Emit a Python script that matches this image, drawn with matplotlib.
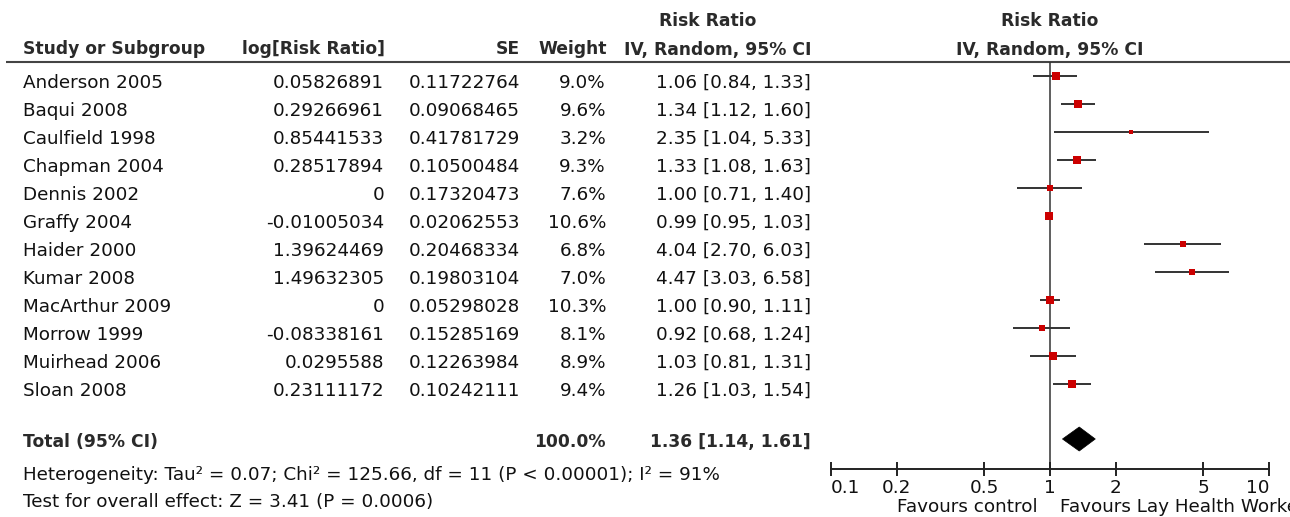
import matplotlib
matplotlib.use("Agg")
import matplotlib.pyplot as plt
from matplotlib.patches import Polygon

# ---------------- data ----------------
studies = ["Anderson 2005", "Baqui 2008", "Caulfield 1998", "Chapman 2004",
           "Dennis 2002", "Graffy 2004", "Haider 2000", "Kumar 2008",
           "MacArthur 2009", "Morrow 1999", "Muirhead 2006", "Sloan 2008"]
log_rr = [0.05826891, 0.29266961, 0.85441533, 0.28517894, 0, -0.01005034,
          1.39624469, 1.49632305, 0, -0.08338161, 0.0295588, 0.23111172]
se = [0.11722764, 0.09068465, 0.41781729, 0.10500484, 0.17320473, 0.02062553,
      0.20468334, 0.19803104, 0.05298028, 0.15285169, 0.12263984, 0.10242111]
weight = [9.0, 9.6, 3.2, 9.3, 7.6, 10.6, 6.8, 7.0, 10.3, 8.1, 8.9, 9.4]
rr = [1.06, 1.34, 2.35, 1.33, 1.00, 0.99, 4.04, 4.47, 1.00, 0.92, 1.03, 1.26]
ci_lo = [0.84, 1.12, 1.04, 1.08, 0.71, 0.95, 2.70, 3.03, 0.90, 0.68, 0.81, 1.03]
ci_hi = [1.33, 1.60, 5.33, 1.63, 1.40, 1.03, 6.03, 6.58, 1.11, 1.24, 1.31, 1.54]
total_rr, total_lo, total_hi = 1.36, 1.14, 1.61
total_weight = 100.0
xticks = [0.1, 0.2, 0.5, 1, 2, 5, 10]
xtick_labels = ["0.1", "0.2", "0.5", "1", "2", "5", "10"]
heterogeneity = "Heterogeneity: Tau\u00b2 = 0.07; Chi\u00b2 = 125.66, df = 11 (P < 0.00001); I\u00b2 = 91%"
overall = "Test for overall effect: Z = 3.41 (P = 0.0006)"
fav_left = "Favours control"
fav_right = "Favours Lay Health Worker"

# ---------------- layout ----------------
W, H = 1290, 517
fig = plt.figure(figsize=(W / 100, H / 100), dpi=100)
fig.patch.set_facecolor("white")

REG = 13.2
BOLD = 12.3
txt_col = "#111111"
bold_col = "#2a2a2a"
plt.rcParams["font.family"] = ["DejaVu Sans"]

ax = fig.add_axes([0, 0, 1, 1])
ax.set_xlim(0, W)
ax.set_ylim(H, 0)
ax.axis("off")

row_y = [76 + 28 * i for i in range(len(studies))]
total_y = 439
base_off = 11.5

x_study, x_log, x_se, x_w, x_ci = 23, 384, 520, 606, 811

# headers
ax.text(708, 26.5, "Risk Ratio", ha="center", va="baseline", fontsize=BOLD,
        fontweight="bold", color=bold_col)
ax.text(1050, 26.5, "Risk Ratio", ha="center", va="baseline", fontsize=BOLD,
        fontweight="bold", color=bold_col)
hy = 54.5
ax.text(x_study, hy, "Study or Subgroup", ha="left", va="baseline", fontsize=BOLD,
        fontweight="bold", color=bold_col)
ax.text(x_log + 1, hy, "log[Risk Ratio]", ha="right", va="baseline", fontsize=BOLD,
        fontweight="bold", color=bold_col)
ax.text(x_se, hy, "SE", ha="right", va="baseline", fontsize=BOLD,
        fontweight="bold", color=bold_col)
ax.text(x_w + 1, hy, "Weight", ha="right", va="baseline", fontsize=BOLD,
        fontweight="bold", color=bold_col)
ax.text(x_ci + 1, hy, "IV, Random, 95% CI", ha="right", va="baseline", fontsize=BOLD,
        fontweight="bold", color=bold_col)
ax.text(1050, hy, "IV, Random, 95% CI", ha="center", va="baseline", fontsize=BOLD,
        fontweight="bold", color=bold_col)
ax.plot([6, W], [62, 62], color="#444444", lw=1.5, solid_capstyle="butt")

# rows
for i, name in enumerate(studies):
    yb = row_y[i] + base_off
    ax.text(x_study, yb, name, ha="left", va="baseline", fontsize=REG, color=txt_col)
    ax.text(x_log, yb, str(log_rr[i]), ha="right", va="baseline", fontsize=REG, color=txt_col)
    ax.text(x_se, yb, str(se[i]), ha="right", va="baseline", fontsize=REG, color=txt_col)
    ax.text(x_w, yb, f"{weight[i]:.1f}%", ha="right", va="baseline", fontsize=REG, color=txt_col)
    ax.text(x_ci, yb, f"{rr[i]:.2f} [{ci_lo[i]:.2f}, {ci_hi[i]:.2f}]", ha="right",
            va="baseline", fontsize=REG, color=txt_col)

# total
ax.text(x_study, 447, "Total (95% CI)", ha="left", va="baseline", fontsize=BOLD,
        fontweight="bold", color=bold_col)
ax.text(x_w, 447, f"{total_weight:.1f}%", ha="right", va="baseline", fontsize=BOLD,
        fontweight="bold", color=bold_col)
ax.text(x_ci, 447, f"{total_rr:.2f} [{total_lo:.2f}, {total_hi:.2f}]", ha="right",
        va="baseline", fontsize=BOLD, fontweight="bold", color=bold_col)
ax.text(x_study, 480, heterogeneity, ha="left", va="baseline", fontsize=REG, color=txt_col)
ax.text(x_study, 507, overall, ha="left", va="baseline", fontsize=REG, color=txt_col)

ax.text(1038, 512, fav_left, ha="right", va="baseline", fontsize=REG, color=txt_col)
ax.text(1060, 512, fav_right, ha="left", va="baseline", fontsize=REG, color=txt_col)

# ---------------- forest ----------------
fx0, fx1, fy0, fy1 = 831, 1269, 62, 469
axf = fig.add_axes([fx0 / W, (H - fy1) / H, (fx1 - fx0) / W, (fy1 - fy0) / H])
axf.set_facecolor("none")
axf.set_xscale("log")
axf.set_xlim(0.1, 10)
axf.set_ylim(fy1, fy0)
for s in ["top", "left", "right"]:
    axf.spines[s].set_visible(False)
axf.spines["bottom"].set_linewidth(1.4)
axf.spines["bottom"].set_color("#222222")
axf.set_yticks([])
axf.xaxis.set_minor_locator(matplotlib.ticker.NullLocator())
axf.set_xticks(xticks)
axf.set_xticklabels(xtick_labels)
axf.tick_params(axis="x", direction="inout", length=10, width=1.4, color="#222222",
                labelsize=REG, labelcolor=txt_col, pad=2.5)
lbls = axf.get_xticklabels()
lbls[0].set_ha("left")
lbls[-1].set_ha("right")

axf.axvline(1, color="#333333", lw=1.1, zorder=1)

for i in range(len(studies)):
    axf.plot([ci_lo[i], ci_hi[i]], [row_y[i], row_y[i]], color="#333333", lw=1.4,
             solid_capstyle="butt", zorder=2, clip_on=False)
    ms = 1.75 * weight[i] ** 0.5
    axf.plot([rr[i]], [row_y[i]], marker="s", ms=ms, color="#cc0000", mec="#cc0000",
             mew=0, zorder=3, clip_on=False)

diamond = Polygon([(total_lo, total_y), (total_rr, total_y - 12),
                   (total_hi, total_y), (total_rr, total_y + 12)],
                  closed=True, facecolor="black", edgecolor="black", lw=0.5, zorder=3)
axf.add_patch(diamond)

fig.savefig("out.png", dpi=100, facecolor="white")
